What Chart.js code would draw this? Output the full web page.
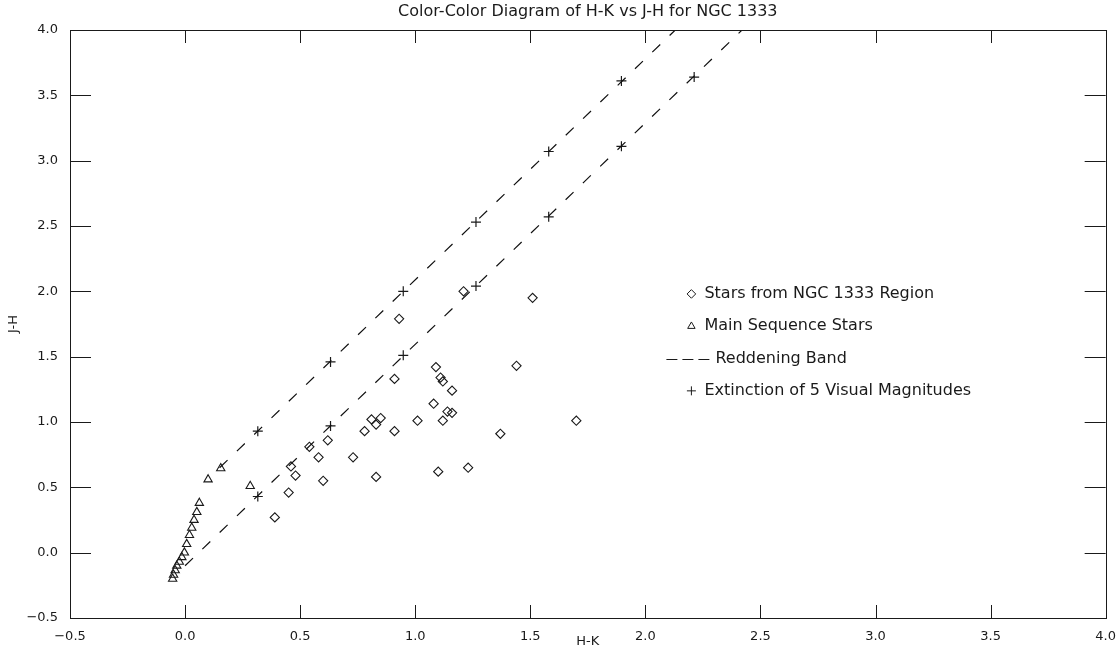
<!DOCTYPE html>
<html>
<head>
<meta charset="utf-8">
<title>Color-Color Diagram of H-K vs J-H for NGC 1333</title>
<script src="https://cdn.jsdelivr.net/npm/chart.js@4.4.1/dist/chart.umd.min.js"></script>
<style>
  html, body { margin: 0; padding: 0; background: #fff; }
  #wrap { width: 1119px; height: 658px; position: relative; }
</style>
</head>
<body>
<div id="wrap"><canvas id="ccd"></canvas></div>
<script>
// Stars from the NGC 1333 region (diamonds)
const ngcHK = [0.93, 1.21, 1.51, 0.91, 1.09, 1.44, 1.11, 1.12, 1.16, 1.08, 1.14, 1.16, 1.01, 1.12, 1.70, 1.37, 1.10,
               1.23, 0.81, 0.85, 0.83, 0.78, 0.91, 0.73, 0.83, 0.62, 0.54, 0.58, 0.46, 0.48, 0.60, 0.45, 0.39];
const ngcJH = [1.79, 2.00, 1.95, 1.33, 1.42, 1.43, 1.34, 1.31, 1.24, 1.14, 1.08, 1.07, 1.01, 1.01, 1.01, 0.91, 0.62,
               0.65, 1.02, 1.03, 0.98, 0.93, 0.93, 0.73, 0.58, 0.86, 0.81, 0.73, 0.66, 0.59, 0.55, 0.46, 0.27];

// main sequence (triangles)
const msHK = [-0.054, -0.05, -0.043, -0.036, -0.025, -0.014, -0.003, 0.007, 0.019, 0.029, 0.039, 0.051, 0.062, 0.10, 0.155, 0.283];
const msJH = [-0.20, -0.17, -0.135, -0.10, -0.07, -0.035, 0.0, 0.065, 0.135, 0.19, 0.25, 0.31, 0.38, 0.56, 0.645, 0.51];

// reddening band edges
const upperBandHK = [0.15, 2.13];
const upperBandJH = [0.65, 4.0];
const lowerBandHK = [0.0, 2.42];
const lowerBandJH = [-0.10, 4.0];

// every 5 visual magnitudes of extinction along the band
const extUpperHK = [0.316, 0.632, 0.948, 1.264, 1.58, 1.896];
const extUpperJH = [0.93, 1.46, 2.00, 2.53, 3.07, 3.61];
const extLowerHK = [0.316, 0.632, 0.948, 1.264, 1.58, 1.896, 2.212];
const extLowerJH = [0.43, 0.97, 1.51, 2.04, 2.57, 3.11, 3.64];

const tickValues = [-0.5, 0.0, 0.5, 1.0, 1.5, 2.0, 2.5, 3.0, 3.5, 4.0];

const TITLE = 'Color-Color Diagram of H-K vs J-H for NGC 1333';
const FONT = "'DejaVu Sans', sans-serif";
const INK = '#1a1a1a';
const hollow = 'rgba(0,0,0,0)';

const pts = (xs, ys) => xs.map((x, i) => ({ x: x, y: ys[i] }));
const fmt = v => (v < 0 ? '\u2212' : '') + Math.abs(v).toFixed(1);

// box around the plot, inward tick marks on all four sides, title over the plot
const boxTicks = {
    id: 'boxTicks',
    afterDraw(chart) {
        const { ctx, chartArea: a, scales } = chart;
        ctx.save();
        ctx.strokeStyle = INK;
        ctx.lineWidth = 1;
        ctx.strokeRect(Math.round(a.left) + 0.5, Math.round(a.top) + 0.5,
                       Math.round(a.right - a.left), Math.round(a.bottom - a.top));
        ctx.beginPath();
        tickValues.forEach(v => {
            const px = Math.round(scales.x.getPixelForValue(v)) + 0.5;
            ctx.moveTo(px, a.bottom); ctx.lineTo(px, a.bottom - 13);
            ctx.moveTo(px, a.top); ctx.lineTo(px, a.top + 13);
            const py = Math.round(scales.y.getPixelForValue(v)) + 0.5;
            ctx.moveTo(a.left, py); ctx.lineTo(a.left + 21, py);
            ctx.moveTo(a.right, py); ctx.lineTo(a.right - 21, py);
        });
        ctx.stroke();

        ctx.fillStyle = INK;
        ctx.font = '16px ' + FONT;
        ctx.textAlign = 'center';
        ctx.textBaseline = 'middle';
        ctx.fillText(TITLE, (a.left + a.right) / 2, 12);
        ctx.restore();
    }
};

// legend sitting inside the plot, right of the band
const legendRows = [
    { style: 'rectRot', text: 'Stars from NGC 1333 Region' },
    { style: 'triangle', text: 'Main Sequence Stars' },
    { style: 'dash', text: 'Reddening Band' },
    { style: 'cross', text: 'Extinction of 5 Visual Magnitudes' }
];
const inPlotLegend = {
    id: 'inPlotLegend',
    afterDraw(chart) {
        const { ctx, scales } = chart;
        const x0 = scales.x.getPixelForValue(2.2);
        const y0 = scales.y.getPixelForValue(1.98);
        ctx.save();
        ctx.font = '16px ' + FONT;
        ctx.strokeStyle = INK;
        ctx.lineWidth = 1;
        ctx.textBaseline = 'middle';
        legendRows.forEach((r, i) => {
            const y = y0 + i * 32.3;
            if (r.style === 'dash') {
                ctx.save();
                ctx.setLineDash([11, 5]);
                ctx.beginPath();
                ctx.moveTo(x0 - 25, Math.round(y) + 0.5);
                ctx.lineTo(x0 + 19, Math.round(y) + 0.5);
                ctx.stroke();
                ctx.restore();
                ctx.fillStyle = INK;
                ctx.fillText(r.text, x0 + 24, y);
            } else {
                ctx.fillStyle = hollow;
                Chart.helpers.drawPoint(ctx, {
                    pointStyle: r.style, radius: r.style === 'cross' ? 4.5 : 4.3,
                    borderWidth: 1, rotation: 0
                }, x0, y);
                ctx.fillStyle = INK;
                ctx.fillText(r.text, x0 + 13, y);
            }
        });
        ctx.restore();
    }
};

new Chart(document.getElementById('ccd'), {
    type: 'scatter',
    data: {
        datasets: [
            { label: 'Reddening Band', data: pts(upperBandHK, upperBandJH), showLine: true,
              borderColor: '#111', borderWidth: 1.2, borderDash: [11, 13], pointRadius: 0, fill: false },
            { label: 'Reddening Band', data: pts(lowerBandHK, lowerBandJH), showLine: true,
              borderColor: '#111', borderWidth: 1.2, borderDash: [11, 13], pointRadius: 0, fill: false },
            { label: 'Extinction of 5 Visual Magnitudes', data: pts(extUpperHK, extUpperJH),
              pointStyle: 'cross', pointRadius: 5, borderColor: INK, borderWidth: 1.2 },
            { label: 'Extinction of 5 Visual Magnitudes', data: pts(extLowerHK, extLowerJH),
              pointStyle: 'cross', pointRadius: 5, borderColor: INK, borderWidth: 1.2 },
            { label: 'Main Sequence Stars', data: pts(msHK, msJH),
              pointStyle: 'triangle', pointRadius: 4.8, backgroundColor: hollow, borderColor: INK, borderWidth: 1.1 },
            { label: 'Stars from NGC 1333 Region', data: pts(ngcHK, ngcJH),
              pointStyle: 'rectRot', pointRadius: 4.6, backgroundColor: hollow, borderColor: INK, borderWidth: 1.1 }
        ]
    },
    options: {
        responsive: true,
        maintainAspectRatio: false,
        animation: false,
        events: [],
        layout: { padding: { left: 0, right: 9, top: 30, bottom: 0 } },
        plugins: {
            legend: { display: false },
            tooltip: { enabled: false },
            title: { display: false }
        },
        scales: {
            x: {
                type: 'linear', min: -0.5, max: 4.0,
                grid: { display: false }, border: { display: false },
                ticks: { stepSize: 0.5, callback: fmt, color: INK, padding: 3, maxRotation: 0,
                         font: { family: FONT, size: 13 } },
                title: { display: true, text: 'H-K', color: INK, font: { family: FONT, size: 13 },
                         padding: { top: 0, bottom: 9 } },
                afterFit(s) { s.height = 40; }
            },
            y: {
                type: 'linear', min: -0.5, max: 4.0,
                grid: { display: false }, border: { display: false },
                ticks: { stepSize: 0.5, callback: fmt, color: INK, padding: 4,
                         font: { family: FONT, size: 13 } },
                title: { display: true, text: 'J-H', color: INK, font: { family: FONT, size: 13 },
                         padding: { top: 6, bottom: 0 } },
                afterFit(s) { s.width = 70; }
            }
        }
    },
    plugins: [boxTicks, inPlotLegend]
});
</script>
</body>
</html>
